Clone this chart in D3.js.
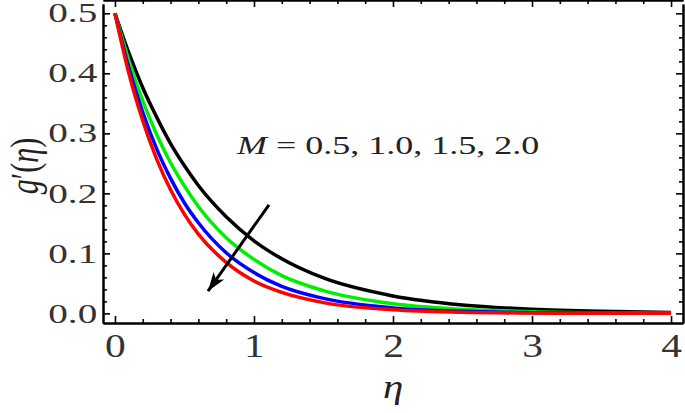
<!DOCTYPE html>
<html>
<head>
<meta charset="utf-8">
<script src="https://cdn.jsdelivr.net/npm/d3@7"></script>
<style>
  body { margin: 0; background: #fff; }
  svg { display: block; }
</style>
</head>
<body>
<svg id="chart"></svg>
<script>
var width = 685;
var height = 413;

// eta grid and g'(eta), one array per M value
var eta    = [0, 0.1, 0.2, 0.3, 0.4, 0.5, 0.6, 0.8, 1.0, 1.2, 1.5, 2.0, 2.5, 3.0, 3.5, 4.0];
var gM05   = [0.5, 0.434, 0.376, 0.327, 0.283, 0.246, 0.213, 0.161, 0.121, 0.091, 0.059, 0.029, 0.014, 0.007, 0.0035, 0.0017];
var gM10   = [0.5, 0.421, 0.354, 0.298, 0.251, 0.212, 0.178, 0.126, 0.090, 0.063, 0.038, 0.016, 0.0068, 0.0029, 0.0012, 0.0005];
var gM15   = [0.5, 0.409, 0.335, 0.274, 0.225, 0.184, 0.151, 0.101, 0.068, 0.045, 0.025, 0.0092, 0.0034, 0.0012, 0.0005, 0.0002];
var gM20   = [0.5, 0.400, 0.321, 0.257, 0.206, 0.165, 0.132, 0.085, 0.054, 0.035, 0.018, 0.0059, 0.0019, 0.0006, 0.0002, 0.0001];
var seriesColors = ["#000000", "#00ee00", "#0000ff", "#ff0000"];
var mValues = ["0.5", "1.0", "1.5", "2.0"];

var xTicks = [0, 1, 2, 3, 4];
var yTicks = [0, 0.1, 0.2, 0.3, 0.4, 0.5];
var xMinor = [0.2, 0.4, 0.6, 0.8, 1.2, 1.4, 1.6, 1.8, 2.2, 2.4, 2.6, 2.8, 3.2, 3.4, 3.6, 3.8];
var yMinor = [0.02, 0.04, 0.06, 0.08, 0.12, 0.14, 0.16, 0.18, 0.22, 0.24, 0.26, 0.28,
              0.32, 0.34, 0.36, 0.38, 0.42, 0.44, 0.46, 0.48];

// arrow and label positions in data units
var arrowFrom = [1.108, 0.181];
var arrowTo = [0.669, 0.037];
var labelAt = [0.878, 0.265];

var xScale = d3.scaleLinear().domain([-0.086, 4.086]).range([103, 683]);
var yScale = d3.scaleLinear().domain([-0.016, 0.5155]).range([323, 4]);

var svg = d3.select("#chart")
    .attr("width", width)
    .attr("height", height);

var series = [gM05, gM10, gM15, gM20];

var line = d3.line()
    .x(function(d, i) { return xScale(eta[i]); })
    .y(function(d) { return yScale(d); })
    .curve(d3.curveMonotoneX);

svg.append("g")
  .selectAll("path")
  .data(series)
  .enter()
  .append("path")
    .attr("d", line)
    .attr("fill", "none")
    .attr("stroke", function(d, i) { return seriesColors[i]; })
    .attr("stroke-width", 3.5);

//frame with ticks on all four sides, pointing inward
function frameAxis(axis, tr) {
  var g = svg.append("g")
      .attr("transform", tr)
      .call(axis);
  g.select(".domain").attr("stroke", "#000").attr("stroke-width", 2);
  g.selectAll(".tick line").attr("stroke", "#000").attr("stroke-width", 1.6);
  return g;
}

var bottom = xScale.range()[0], top = yScale.range()[1];
var yb = yScale.range()[0], xr = xScale.range()[1];

frameAxis(d3.axisBottom(xScale).tickValues(xMinor).tickSize(-4).tickSizeOuter(0).tickFormat(""), "translate(0," + yb + ")");
frameAxis(d3.axisTop(xScale).tickValues(xMinor).tickSize(-4).tickSizeOuter(0).tickFormat(""), "translate(0," + top + ")");
frameAxis(d3.axisLeft(yScale).tickValues(yMinor).tickSize(-4).tickSizeOuter(0).tickFormat(""), "translate(" + bottom + ",0)");
frameAxis(d3.axisRight(yScale).tickValues(yMinor).tickSize(-4).tickSizeOuter(0).tickFormat(""), "translate(" + xr + ",0)");
frameAxis(d3.axisTop(xScale).tickValues(xTicks).tickSize(-7).tickSizeOuter(0).tickFormat(""), "translate(0," + top + ")");
frameAxis(d3.axisRight(yScale).tickValues(yTicks).tickSize(-7).tickSizeOuter(0).tickFormat(""), "translate(" + xr + ",0)");

var xAxisG = frameAxis(d3.axisBottom(xScale).tickValues(xTicks).tickSize(-7).tickSizeOuter(0)
    .tickPadding(10).tickFormat(d3.format("d")), "translate(0," + yb + ")");
xAxisG.attr("font-family", "'Liberation Serif', serif").attr("font-size", 34);
xAxisG.selectAll(".tick text")
    .attr("fill", "#333")
    .attr("transform", "scale(1.22,1)");

var yAxisG = frameAxis(d3.axisLeft(yScale).tickValues(yTicks).tickSize(-7).tickSizeOuter(0)
    .tickPadding(4).tickFormat(d3.format(".1f")), "translate(" + bottom + ",0)");
yAxisG.attr("font-family", "'Liberation Serif', serif").attr("font-size", 27);
yAxisG.selectAll(".tick text")
    .attr("fill", "#333")
    .attr("transform", "scale(1.45,1)");

// arrow
svg.append("defs").append("marker")
    .attr("id", "head")
    .attr("markerUnits", "userSpaceOnUse")
    .attr("viewBox", "-20 -8 22 16")
    .attr("markerWidth", 22)
    .attr("markerHeight", 16)
    .attr("refX", 0)
    .attr("refY", 0)
    .attr("orient", "auto")
  .append("path")
    .attr("d", "M0,0 L-19,-6.5 L-14,0 L-19,6.5 Z")
    .attr("fill", "#000");

svg.append("line")
    .attr("x1", xScale(arrowFrom[0]))
    .attr("y1", yScale(arrowFrom[1]))
    .attr("x2", xScale(arrowTo[0]))
    .attr("y2", yScale(arrowTo[1]))
    .attr("stroke", "#000")
    .attr("stroke-width", 3)
    .attr("marker-end", "url(#head)");

// M label, stretched horizontally like the picture
var lab = svg.append("text")
    .attr("transform", "translate(" + xScale(labelAt[0]) + "," + yScale(labelAt[1]) + ") scale(1.44,1)")
    .attr("font-family", "'Liberation Serif', serif")
    .attr("font-size", 25)
    .attr("fill", "#222");
lab.append("tspan").attr("font-style", "italic").text("M");
lab.append("tspan").text(" = " + mValues.join(", "));

// axis titles
svg.append("text")
    .attr("transform", "translate(393,398) scale(1.2,1)")
    .attr("text-anchor", "middle")
    .attr("font-family", "'Liberation Serif', serif")
    .attr("font-style", "italic")
    .attr("font-size", 34)
    .attr("fill", "#222")
    .text("η");

var yl = svg.append("text")
    .attr("transform", "translate(38,166) rotate(-90) scale(1,1.3)")
    .attr("text-anchor", "middle")
    .attr("font-family", "'Liberation Serif', serif")
    .attr("font-size", 30)
    .attr("fill", "#222");
yl.append("tspan").attr("font-style", "italic").text("g");
yl.append("tspan").text("′(");
yl.append("tspan").attr("font-style", "italic").text("η");
yl.append("tspan").text(")");
</script>
</body>
</html>
